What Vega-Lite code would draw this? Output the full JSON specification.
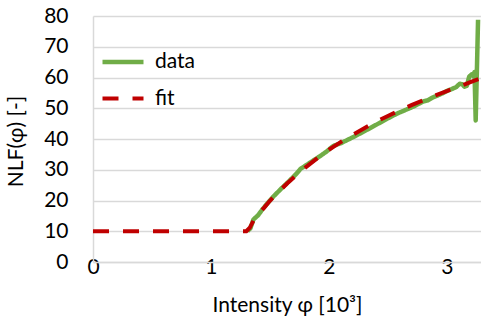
{
  "$schema": "https://vega.github.io/schema/vega-lite/v6.json",
  "width": 388,
  "height": 246,
  "autosize": "none",
  "padding": {"left": 93, "top": 16, "right": 0, "bottom": 62},
  "background": "white",
  "config": {"view": {"stroke": null}, "font": "Lato"},
  "data": {"values": [
    {"series": "data", "x": 1.31, "y": 10.0},
    {"series": "data", "x": 1.335, "y": 11.0},
    {"series": "data", "x": 1.36, "y": 13.8},
    {"series": "data", "x": 1.40, "y": 15.2},
    {"series": "data", "x": 1.44, "y": 17.3},
    {"series": "data", "x": 1.50, "y": 20.0},
    {"series": "data", "x": 1.53, "y": 21.3},
    {"series": "data", "x": 1.60, "y": 24.0},
    {"series": "data", "x": 1.66, "y": 26.2},
    {"series": "data", "x": 1.72, "y": 28.5},
    {"series": "data", "x": 1.76, "y": 30.3},
    {"series": "data", "x": 1.80, "y": 31.3},
    {"series": "data", "x": 1.86, "y": 32.8},
    {"series": "data", "x": 1.92, "y": 34.3},
    {"series": "data", "x": 1.98, "y": 35.9},
    {"series": "data", "x": 2.02, "y": 37.2},
    {"series": "data", "x": 2.04, "y": 37.8},
    {"series": "data", "x": 2.10, "y": 38.6},
    {"series": "data", "x": 2.20, "y": 40.5},
    {"series": "data", "x": 2.30, "y": 42.5},
    {"series": "data", "x": 2.40, "y": 44.6},
    {"series": "data", "x": 2.50, "y": 46.7},
    {"series": "data", "x": 2.58, "y": 48.3},
    {"series": "data", "x": 2.66, "y": 49.6},
    {"series": "data", "x": 2.72, "y": 50.6},
    {"series": "data", "x": 2.76, "y": 51.4},
    {"series": "data", "x": 2.80, "y": 52.2},
    {"series": "data", "x": 2.84, "y": 52.6},
    {"series": "data", "x": 2.88, "y": 53.5},
    {"series": "data", "x": 2.92, "y": 54.1},
    {"series": "data", "x": 2.96, "y": 54.8},
    {"series": "data", "x": 3.00, "y": 55.6},
    {"series": "data", "x": 3.04, "y": 56.2},
    {"series": "data", "x": 3.08, "y": 56.9},
    {"series": "data", "x": 3.11, "y": 58.0},
    {"series": "data", "x": 3.13, "y": 57.8},
    {"series": "data", "x": 3.15, "y": 57.0},
    {"series": "data", "x": 3.17, "y": 57.3},
    {"series": "data", "x": 3.19, "y": 60.3},
    {"series": "data", "x": 3.21, "y": 61.0},
    {"series": "data", "x": 3.225, "y": 60.4},
    {"series": "data", "x": 3.235, "y": 61.8},
    {"series": "data", "x": 3.245, "y": 46.0},
    {"series": "data", "x": 3.255, "y": 62.0},
    {"series": "data", "x": 3.265, "y": 78.8},
    {"series": "fit", "x": 0, "y": 10},
    {"series": "fit", "x": 1.30, "y": 10},
    {"series": "fit", "x": 1.33, "y": 11.2},
    {"series": "fit", "x": 1.36, "y": 13.4},
    {"series": "fit", "x": 1.40, "y": 15.5},
    {"series": "fit", "x": 1.45, "y": 17.6},
    {"series": "fit", "x": 1.50, "y": 19.9},
    {"series": "fit", "x": 1.55, "y": 21.9},
    {"series": "fit", "x": 1.60, "y": 23.8},
    {"series": "fit", "x": 1.65, "y": 25.7},
    {"series": "fit", "x": 1.70, "y": 27.4},
    {"series": "fit", "x": 1.75, "y": 29.1},
    {"series": "fit", "x": 1.80, "y": 30.7},
    {"series": "fit", "x": 1.90, "y": 33.7},
    {"series": "fit", "x": 2.00, "y": 36.5},
    {"series": "fit", "x": 2.10, "y": 39.0},
    {"series": "fit", "x": 2.20, "y": 41.3},
    {"series": "fit", "x": 2.30, "y": 43.5},
    {"series": "fit", "x": 2.40, "y": 45.6},
    {"series": "fit", "x": 2.50, "y": 47.5},
    {"series": "fit", "x": 2.60, "y": 49.3},
    {"series": "fit", "x": 2.70, "y": 51.0},
    {"series": "fit", "x": 2.80, "y": 52.6},
    {"series": "fit", "x": 2.90, "y": 54.1},
    {"series": "fit", "x": 3.00, "y": 55.6},
    {"series": "fit", "x": 3.10, "y": 57.0},
    {"series": "fit", "x": 3.20, "y": 58.5},
    {"series": "fit", "x": 3.29, "y": 59.8}
  ]},
  "mark": {"type": "line", "strokeJoin": "round", "clip": true},
  "encoding": {
    "x": {
      "field": "x", "type": "quantitative",
      "scale": {"domain": [0, 3.29], "nice": false, "zero": false},
      "axis": {
        "title": "Intensity φ [10³]",
        "values": [0, 1, 2, 3],
        "format": "d",
        "grid": false,
        "ticks": false, "tickSize": 0,
        "domainColor": "#D9D9D9", "domainWidth": 1.5,
        "labelFontSize": 21, "labelColor": "black", "labelBaseline": "alphabetic", "labelPadding": 11,
        "labelFlush": false, "labelOverlap": false,
        "titleFontSize": 21, "titleFontWeight": "normal", "titleColor": "black",
        "titleBaseline": "alphabetic", "titleY": 49
      }
    },
    "y": {
      "field": "y", "type": "quantitative",
      "scale": {"domain": [0, 80], "nice": false},
      "axis": {
        "title": "NLF(φ) [-]",
        "values": [0, 10, 20, 30, 40, 50, 60, 70, 80],
        "grid": true, "gridColor": "#D9D9D9", "gridWidth": 1.5,
        "ticks": false, "tickSize": 0,
        "domainColor": "#D9D9D9", "domainWidth": 1.5,
        "labelFontSize": 21, "labelColor": "black", "labelPadding": 25,
        "labelFlush": false, "labelOverlap": false,
        "titleFontSize": 21, "titleFontWeight": "normal", "titleColor": "black",
        "titleX": -77, "titleY": 125, "titleBaseline": "middle", "titleAlign": "center", "titleAngle": 270
      }
    },
    "strokeWidth": {
      "field": "series", "type": "nominal",
      "scale": {"domain": ["data", "fit"], "range": [4.5, 4]},
      "legend": null
    },
    "color": {
      "field": "series", "type": "nominal",
      "scale": {"domain": ["data", "fit"], "range": ["#70AD47", "#C00000"]},
      "legend": {
        "title": null, "orient": "none", "legendX": 7, "legendY": 23,
        "symbolType": "stroke", "symbolSize": 1681, "symbolStrokeWidth": 4,
        "labelFontSize": 21, "labelColor": "black", "labelOffset": 9,
        "rowPadding": 4, "padding": 0
      }
    },
    "strokeDash": {
      "field": "series", "type": "nominal",
      "scale": {"domain": ["data", "fit"], "range": [[1, 0], [16, 14]]},
      "legend": {
        "title": null, "orient": "none", "legendX": 7, "legendY": 23,
        "symbolType": "stroke", "symbolSize": 1681, "symbolStrokeWidth": 4,
        "labelFontSize": 21, "labelColor": "black", "labelOffset": 9,
        "rowPadding": 4, "padding": 0
      }
    }
  }
}
